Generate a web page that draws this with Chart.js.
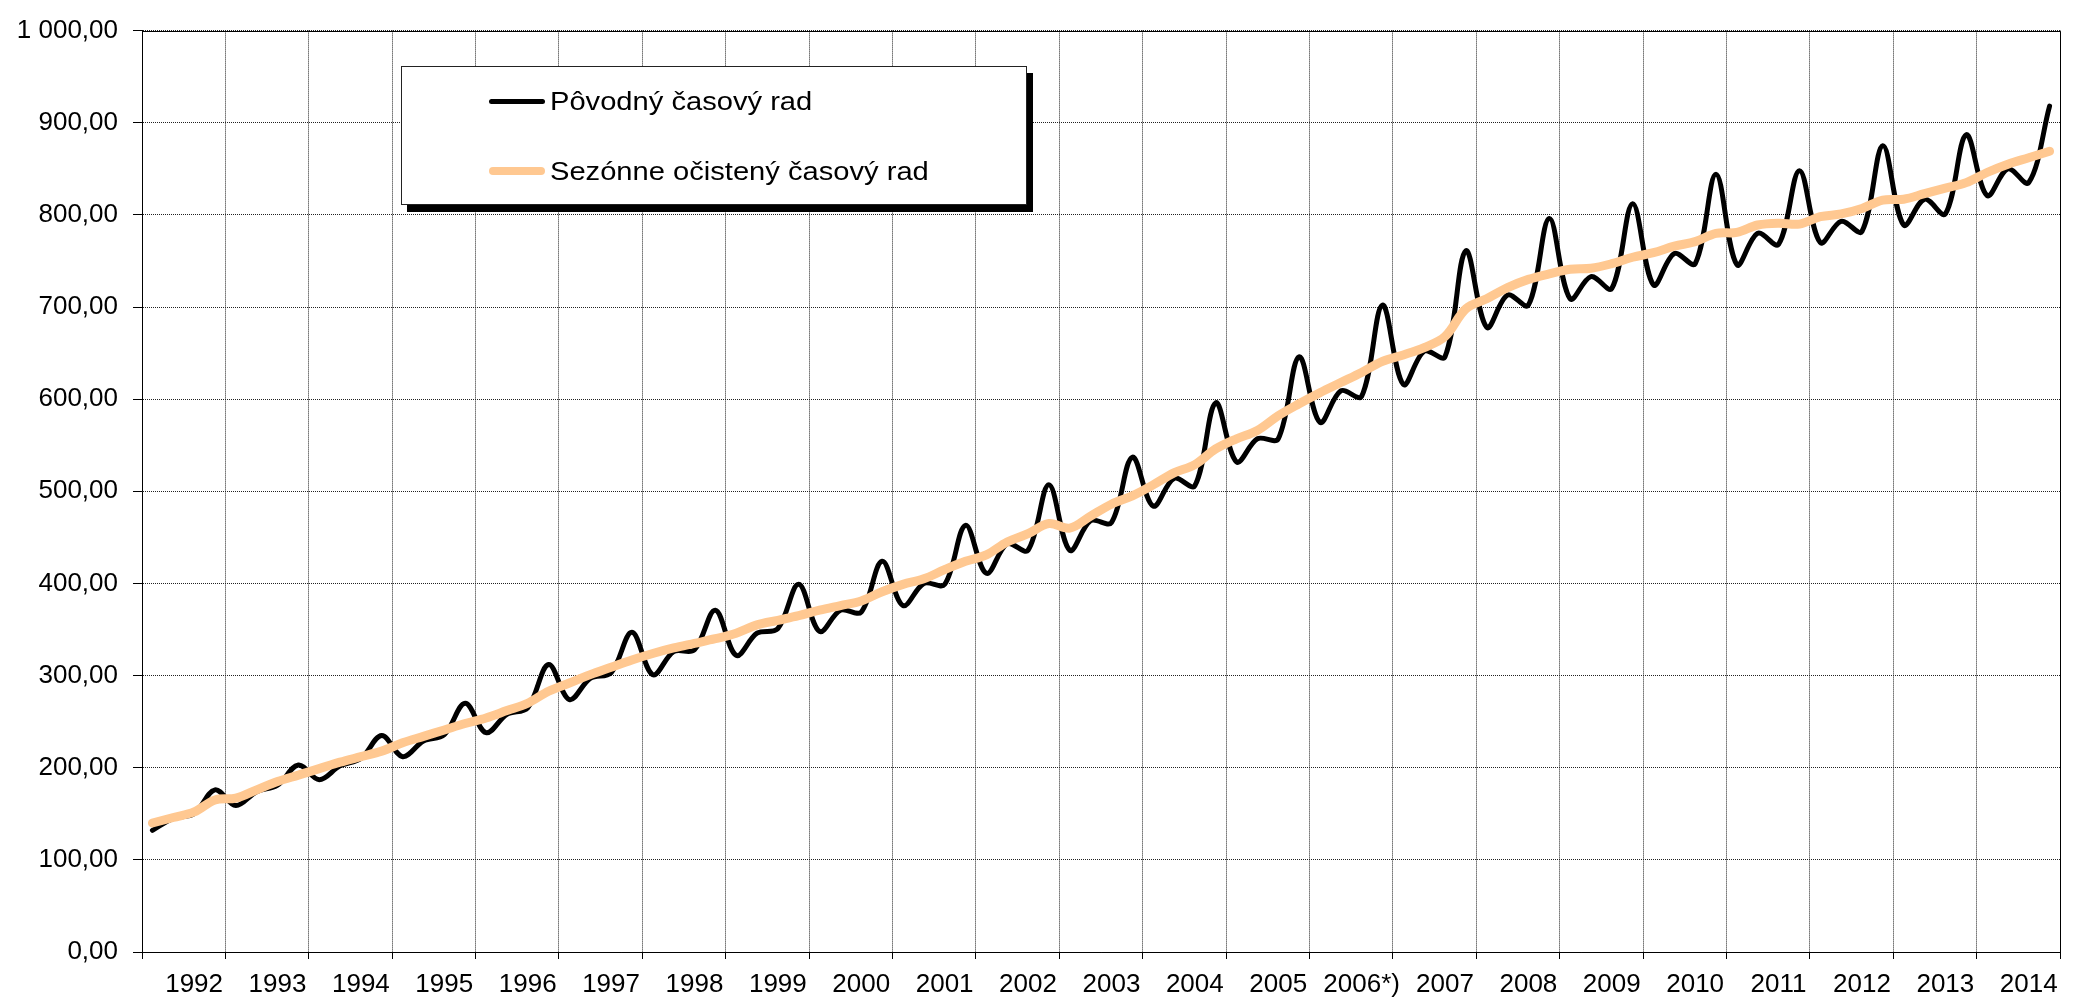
<!DOCTYPE html>
<html lang="sk">
<head>
<meta charset="utf-8">
<title>Pôvodný a sezónne očistený časový rad</title>
<script src="https://cdn.jsdelivr.net/npm/chart.js@4.4.1/dist/chart.umd.min.js"></script>
<style>
  html, body { margin: 0; padding: 0; background: #fff; }
  #wrap { position: relative; width: 2077px; height: 1003px; }
  #legend {
    position: absolute; left: 401px; top: 66px; width: 624px; height: 137px;
    background: #fff; border: 1px solid #222; box-shadow: 6px 7px 0 #000;
    font-family: 'Liberation Sans', Arial, sans-serif;
  }
  .item { position: absolute; left: 87px; height: 30px; display: flex; align-items: center; }
  .swatch { width: 56px; border-radius: 4px; }
  .text {
    margin-left: 5px; font-size: 26px; color: #000; white-space: nowrap;
    transform: scaleX(1.12); transform-origin: left center;
  }
</style>
</head>
<body>
<div id="wrap">
  <canvas id="chart" width="2077" height="1003"></canvas>
  <div id="legend"></div>
</div>
<script>
// years on the x axis, 4 quarters each
const years = ['1992', '1993', '1994', '1995', '1996', '1997', '1998', '1999', '2000', '2001', '2002',
  '2003', '2004', '2005', '2006*)', '2007', '2008', '2009', '2010', '2011', '2012', '2013', '2014']

const seriesNames = ['Pôvodný časový rad', 'Sezónne očistený časový rad']

// quarterly values, 1992 Q1 .. 2014 Q4
const original = [
  132, 145, 150, 176,
  159, 174, 181, 203,
  187, 202, 210, 235,
  212, 229, 236, 270,
  238, 258, 265, 312,
  274, 297, 303, 347,
  301, 326, 328, 371,
  322, 346, 351, 399,
  348, 371, 369, 424,
  376, 400, 399, 463,
  411, 443, 436, 507,
  436, 468, 466, 537,
  484, 514, 506, 596,
  532, 557, 557, 646,
  575, 609, 603, 702,
  616, 652, 646, 761,
  678, 713, 702, 796,
  709, 733, 720, 812,
  724, 758, 747, 844,
  746, 780, 768, 848,
  770, 793, 782, 875,
  789, 817, 801, 887,
  821, 850, 835, 918
]

const adjusted = [
  140, 146, 152, 165,
  167, 176, 185, 192,
  199, 206, 212, 218,
  227, 234, 241, 248,
  254, 262, 270, 283,
  292, 301, 309, 317,
  324, 330, 335, 340,
  346, 355, 360, 365,
  371, 376, 381, 391,
  399, 405, 415, 424,
  431, 445, 454, 465,
  460, 473, 486, 495,
  507, 520, 529, 546,
  557, 566, 582, 595,
  607, 618, 629, 641,
  648, 656, 668, 698,
  709, 721, 730, 736,
  741, 742, 747, 754,
  759, 766, 771, 780,
  781, 789, 791, 790,
  798, 801, 807, 816,
  817, 823, 829, 835,
  846, 855, 862, 869
]

const quarters = original.length
const toPoints = values => values.map((y, i) => ({ x: i + 0.5, y }))

const gridColor = '#222'
const clear = 'rgba(0,0,0,0)'
const font = { family: "'Liberation Sans', Arial, sans-serif", size: 26 }

// 1000 -> "1 000,00"
const formatValue = v => {
  const [whole, dec] = v.toFixed(2).split('.')
  return whole.replace(/\B(?=(\d{3})+(?!\d))/g, ' ') + ',' + dec
}

const isYearEdge = c => c.tick && c.tick.value % 4 === 0

// solid top and right edge of the plot area
const plotFrame = {
  id: 'plotFrame',
  afterDraw(chart) {
    const { ctx, chartArea: a } = chart
    const top = Math.round(a.top) + 0.5
    const right = Math.round(a.right) + 0.5
    ctx.save()
    ctx.strokeStyle = '#000'
    ctx.lineWidth = 1
    ctx.beginPath()
    ctx.moveTo(Math.round(a.left), top)
    ctx.lineTo(right, top)
    ctx.lineTo(right, Math.round(a.bottom))
    ctx.stroke()
    ctx.restore()
  }
}

const chart = new Chart(document.getElementById('chart'), {
  type: 'line',
  data: {
    datasets: [
      {
        label: seriesNames[0], data: toPoints(original), borderColor: '#000', borderWidth: 5,
        tension: 0.35, pointRadius: 0, borderCapStyle: 'round', borderJoinStyle: 'round', order: 2
      },
      {
        label: seriesNames[1], data: toPoints(adjusted), borderColor: '#FFC891', borderWidth: 9,
        tension: 0.35, pointRadius: 0, borderCapStyle: 'round', borderJoinStyle: 'round', order: 1
      }
    ]
  },
  options: {
    responsive: false,
    animation: false,
    layout: { padding: { top: 20, right: 17, bottom: 0, left: 0 } },
    plugins: { legend: { display: false }, tooltip: { enabled: false } },
    scales: {
      x: {
        type: 'linear', min: 0, max: quarters,
        afterBuildTicks: s => {
          const ticks = []
          for (let k = 0; k <= years.length; k++) {
            ticks.push({ value: k * 4 })
            if (k < years.length) ticks.push({ value: k * 4 + 2.5 })
          }
          s.ticks = ticks
        },
        afterFit: s => { s.height = 51 },
        grid: {
          color: c => isYearEdge(c) ? gridColor : clear,
          tickColor: c => isYearEdge(c) ? '#000' : clear,
          tickLength: 7, lineWidth: 1
        },
        border: { color: '#000', width: 1, dash: [1, 1] },
        ticks: {
          autoSkip: false, maxRotation: 0, minRotation: 0, padding: 10, color: '#000', font,
          callback: v => v % 4 === 2.5 ? years[(v - 2.5) / 4] : ''
        }
      },
      y: {
        min: 0, max: 1000,
        afterFit: s => { s.width = 142 },
        grid: { color: gridColor, tickColor: '#000', tickLength: 9, lineWidth: 1 },
        border: { color: '#000', width: 1, dash: [1, 1] },
        ticks: { stepSize: 100, padding: 15, color: '#000', font, callback: v => formatValue(v) }
      }
    }
  },
  plugins: [plotFrame]
})

// legend box drawn as html, built from the datasets
const legend = document.getElementById('legend')
chart.data.datasets.forEach((ds, i) => {
  const item = document.createElement('div')
  item.className = 'item'
  item.style.top = `${19 + i * 70}px`
  const swatch = document.createElement('span')
  swatch.className = 'swatch'
  swatch.style.height = `${i === 0 ? 5 : 8}px`
  swatch.style.background = ds.borderColor
  const text = document.createElement('span')
  text.className = 'text'
  text.textContent = ds.label
  item.append(swatch, text)
  legend.appendChild(item)
})
</script>
</body>
</html>
